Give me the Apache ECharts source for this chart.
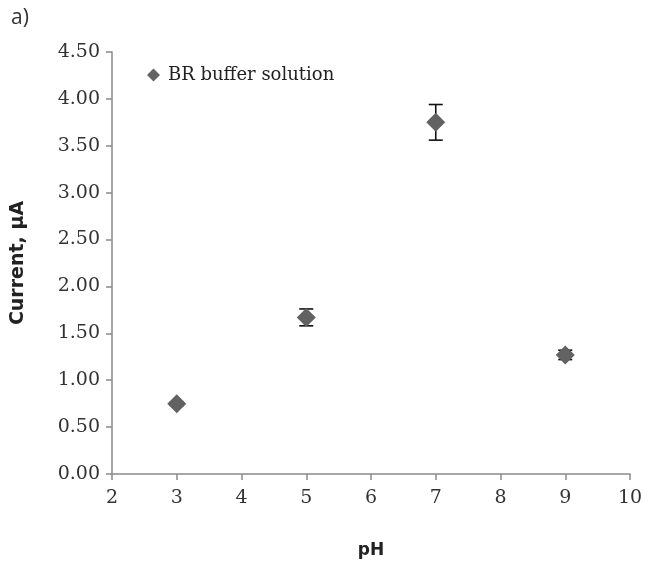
<!DOCTYPE html>
<html>
<head>
<meta charset="utf-8">
<script src="https://cdn.jsdelivr.net/npm/echarts@6/dist/echarts.min.js"></script>
<style>html,body{margin:0;padding:0;background:#fff}#c{width:648px;height:564px}</style>
</head>
<body>
<div id="c"></div>
<script>
const pH = [3, 5, 7, 9];
const current = [0.75, 1.67, 3.75, 1.27];
const errors = [0.02, 0.09, 0.19, 0.05];
const yTicks = [0, 0.5, 1, 1.5, 2, 2.5, 3, 3.5, 4, 4.5];
const xTicks = [2, 3, 4, 5, 6, 7, 8, 9, 10];
const seriesName = 'BR buffer solution';

const chart = echarts.init(document.getElementById('c'), null, {renderer: 'canvas'});
const pts = pH.map((x, i) => [x, current[i]]);
const errData = pH.map((x, i) => [x, current[i] - errors[i], current[i] + errors[i]]);
const axisCol = '#8a8a8a';
chart.setOption({
  animation: false,
  backgroundColor: '#fff',
  title: {text: 'a)', left: 6, top: 3, textStyle: {fontFamily: 'Open Sans', fontWeight: 'normal', fontSize: 21, color: '#333'}},
  legend: {
    left: 142, top: 61, icon: 'diamond', itemWidth: 13, itemHeight: 13, itemGap: 6,
    data: [seriesName],
    textStyle: {fontFamily: 'DejaVu Serif', fontSize: 18, color: '#222', padding: [0, 0, 0, 3]}
  },
  grid: {left: 112, right: 18, top: 52, bottom: 90, containLabel: false},
  xAxis: {
    type: 'value', min: xTicks[0], max: xTicks[xTicks.length - 1], interval: 1,
    name: 'pH', nameLocation: 'middle', nameGap: 68,
    nameTextStyle: {fontFamily: 'DejaVu Sans', fontWeight: 'bold', fontSize: 17, color: '#222'},
    axisLine: {show: true, lineStyle: {color: axisCol, width: 1.5}},
    axisTick: {show: true, length: 6, lineStyle: {color: axisCol, width: 1.5}},
    axisLabel: {margin: 15, fontFamily: 'DejaVu Serif', fontSize: 19, color: '#333'},
    splitLine: {show: false}
  },
  yAxis: {
    type: 'value', min: yTicks[0], max: yTicks[yTicks.length - 1], interval: 0.5,
    name: 'Current, μA', nameLocation: 'middle', nameGap: 84,
    nameTextStyle: {fontFamily: 'DejaVu Sans', fontWeight: 'bold', fontSize: 19, color: '#222'},
    axisLine: {show: true, lineStyle: {color: axisCol, width: 1.5}},
    axisTick: {show: true, length: 6, lineStyle: {color: axisCol, width: 1.5}},
    axisLabel: {margin: 12, fontFamily: 'DejaVu Serif', fontSize: 19, color: '#333', formatter: v => v.toFixed(2)},
    splitLine: {show: false}
  },
  series: [
    {
      type: 'custom', name: 'err', silent: true, z: 3,
      data: errData,
      renderItem: function (params, api) {
        const x = api.value(0);
        const lo = api.coord([x, api.value(1)]);
        const hi = api.coord([x, api.value(2)]);
        const hw = 7;
        const st = {stroke: '#111', lineWidth: 1.6};
        return {type: 'group', children: [
          {type: 'line', shape: {x1: lo[0], y1: lo[1], x2: hi[0], y2: hi[1]}, style: st},
          {type: 'line', shape: {x1: lo[0] - hw, y1: lo[1], x2: lo[0] + hw, y2: lo[1]}, style: st},
          {type: 'line', shape: {x1: hi[0] - hw, y1: hi[1], x2: hi[0] + hw, y2: hi[1]}, style: st}
        ]};
      }
    },
    {
      type: 'scatter', name: seriesName, symbol: 'diamond', symbolSize: 19, z: 4,
      itemStyle: {color: '#626262', opacity: 1},
      data: pts
    }
  ]
});
</script>
</body>
</html>
